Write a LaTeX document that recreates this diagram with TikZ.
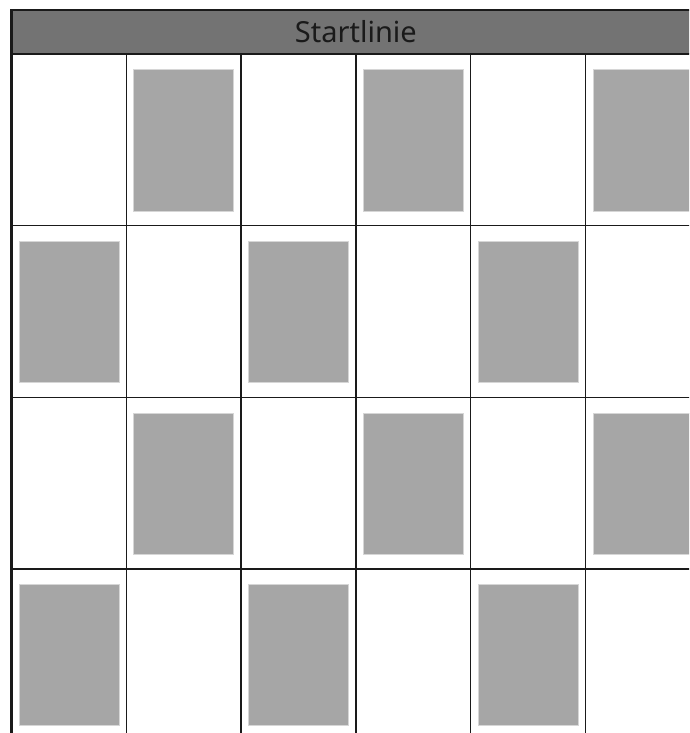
\documentclass[tikz,border=0pt]{standalone}
\usepackage{fontspec}
\setmainfont{Noto Sans}
\usepackage{tikz}
\usetikzlibrary{calc, positioning}

\definecolor{kopfgrau}{HTML}{737373}
\definecolor{feldgrau}{HTML}{A6A6A6}
\definecolor{feldrand}{HTML}{D6D6D6}
\definecolor{linie}{HTML}{1A1A1A}

\begin{document}
\begin{tikzpicture}[x=1pt, y=-1pt]

    % =================================================================
    % 1. RAHMEN UND GRUNDMASSE
    % =================================================================
    \useasboundingbox (0,0) rectangle (689,733);
    \clip (0,0) rectangle (689,733);
    \fill[white] (0,0) rectangle (689,733);

    % Spaltenbreite und Zeilenhoehe
    \def\bx{114.8}
    \def\by{171.6}

    % Kopfzeile reicht ueber alle sechs Spalten
    \coordinate (KopfOL) at (11.5, 10);
    \coordinate (KopfUR) at (700.3, 54);

    % =================================================================
    % 2. GRAUE FELDER IM SCHACHBRETTMUSTER
    % =================================================================
    \foreach \i in {1,...,6} {
        \foreach \j in {1,...,4} {
            \pgfmathparse{int(mod(\i+\j,2))}
            \ifnum\pgfmathresult=1
                \draw[feldrand, fill=feldgrau, line width=1pt]
                    ({11.5+(\i-1)*\bx+7.5}, {54+(\j-1)*\by+16})
                    rectangle ++(100, 141);
            \fi
        }
    }

    % =================================================================
    % 3. GITTERLINIEN
    % =================================================================
    \foreach \i in {1,...,5} {
        \draw[linie, line width=1.4pt] ({11.5+\i*\bx}, 54) -- ({11.5+\i*\bx}, 740);
    }
    \foreach \j in {1,...,3} {
        \draw[linie, line width=1.4pt] (11.5, {54+\j*\by}) -- (700, {54+\j*\by});
    }

    % Linker Rand, etwas kraeftiger
    \draw[linie, line width=2.2pt] (11.5, 54) -- (11.5, 740);

    % =================================================================
    % 4. KOPFZEILE MIT BESCHRIFTUNG
    % =================================================================
    \draw[linie, fill=kopfgrau, line width=2.2pt] (KopfOL) rectangle (KopfUR);
    \node[text=linie, font=\fontsize{29}{29}\selectfont] (start)
        at ($(KopfOL)!0.5!(KopfUR)$) {Startlinie};

\end{tikzpicture}
\end{document}
